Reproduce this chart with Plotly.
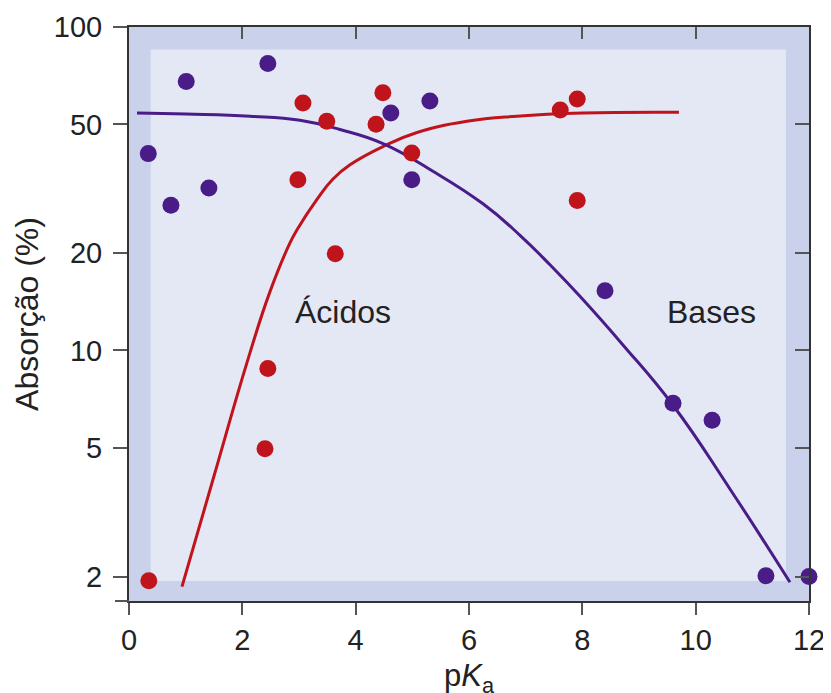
import plotly.graph_objects as go
import math

# Data points (pKa, absorption %)
acid_pka = [0.35, 2.40, 2.45, 3.07, 2.98, 3.49, 3.64, 4.48, 4.36, 4.99, 7.61, 7.91, 7.91]
acid_abs = [1.94, 4.97, 8.8, 58.2, 33.7, 51.1, 19.9, 62.6, 50.0, 40.8, 55.4, 59.9, 29.1]

base_pka = [0.34, 0.74, 1.01, 1.41, 2.45, 4.62, 5.31, 4.99, 8.40, 9.60, 10.29, 11.24, 12.0]
base_abs = [40.6, 28.1, 67.8, 31.8, 77.1, 54.2, 59.0, 33.7, 15.3, 6.87, 6.08, 2.01, 2.0]

# Fitted curves
acid_curve_x = [0.935, 1.50, 2.082, 2.488, 2.841, 2.965, 3.317, 3.60, 3.90, 4.482, 5.082, 5.964, 6.847, 8.011, 9.705]
acid_curve_y = [1.86, 4.09, 9.17, 15.2, 21.5, 23.6, 29.3, 33.9, 37.5, 42.7, 47.2, 51.1, 53.0, 54.2, 54.5]

base_curve_x = [0.141, 1.006, 2.135, 3.017, 3.723, 4.482, 5.364, 6.247, 6.900, 7.429, 7.958, 8.717, 9.600, 10.605, 11.664]
base_curve_y = [54.2, 53.8, 53.0, 51.5, 48.2, 43.6, 35.8, 28.4, 22.7, 18.4, 14.7, 10.4, 6.77, 3.73, 1.92]

x_ticks = [0, 2, 4, 6, 8, 10, 12]
y_ticks = [2, 5, 10, 20, 50, 100]

RED = "#c0141c"
PURPLE = "#4a1c88"
FONT = "Liberation Sans, Arial, sans-serif"
Y_MIN = 1.68
AX = "#333333"
TK = "#555555"
TXT = "#222222"

fig = go.Figure()
fig.add_trace(go.Scatter(x=acid_curve_x, y=acid_curve_y, mode="lines",
                         line=dict(color=RED, width=3, shape="spline", smoothing=1.3),
                         hoverinfo="skip"))
fig.add_trace(go.Scatter(x=base_curve_x, y=base_curve_y, mode="lines",
                         line=dict(color=PURPLE, width=3, shape="spline", smoothing=1.3),
                         hoverinfo="skip"))
fig.add_trace(go.Scatter(x=acid_pka, y=acid_abs, mode="markers",
                         marker=dict(color=RED, size=17, line=dict(width=0)), cliponaxis=False))
fig.add_trace(go.Scatter(x=base_pka, y=base_abs, mode="markers",
                         marker=dict(color=PURPLE, size=17, line=dict(width=0)), cliponaxis=False))
# invisible trace to activate mirrored (inside-tick) axes
fig.add_trace(go.Scatter(x=[None], y=[None], xaxis="x2", yaxis="y2", showlegend=False))

yr = [math.log10(Y_MIN), 2]
fig.update_layout(
    width=823, height=685,
    margin=dict(l=121, r=22, t=19, b=92, autoexpand=False),
    paper_bgcolor="white",
    plot_bgcolor="#c9d2ea",
    showlegend=False,
    font=dict(family=FONT, size=29, color=TXT),
    xaxis=dict(range=[0, 12], tickvals=x_ticks, ticks="outside", ticklen=12, tickwidth=2,
               tickcolor=TK, showline=True, linecolor=AX, linewidth=2,
               showgrid=False, zeroline=False, automargin=False,
               tickfont=dict(size=29)),
    yaxis=dict(type="log", range=yr, tickvals=y_ticks,
               ticks="outside", ticklen=14, tickwidth=2, tickcolor=TK,
               showline=True, linecolor=AX, linewidth=2, showgrid=False, zeroline=False,
               automargin=False, tickfont=dict(size=29), ticklabelstandoff=5,
               title=dict(text="Absorção (%)", font=dict(size=32), standoff=6)),
    xaxis2=dict(overlaying="x", side="top", range=[0, 12], tickvals=x_ticks, ticks="inside",
                ticklen=12, tickwidth=2, tickcolor=TK, showticklabels=False, automargin=False,
                showline=True, linecolor=AX, linewidth=2, showgrid=False, zeroline=False),
    yaxis2=dict(overlaying="y", side="right", type="log", range=yr, tickvals=y_ticks,
                ticks="inside", ticklen=14, tickwidth=2, tickcolor=TK, automargin=False,
                showticklabels=False, showline=True, linecolor=AX, linewidth=2,
                showgrid=False, zeroline=False),
    shapes=[
        dict(type="rect", xref="paper", yref="paper", x0=0.032, x1=0.966, y0=0.035, y1=0.961,
             fillcolor="#e4e8f5", line=dict(width=0), layer="below"),
        dict(type="line", xref="paper", yref="paper", x0=-14 / 680, x1=0, y0=0, y1=0,
             line=dict(color=TK, width=2)),
    ],
    annotations=[
        dict(text="Ácidos", x=0.315, y=0.504, xref="paper", yref="paper", showarrow=False,
             xanchor="center", yanchor="middle", font=dict(size=32, color=TXT)),
        dict(text="Bases", x=0.856, y=0.504, xref="paper", yref="paper", showarrow=False,
             xanchor="center", yanchor="middle", font=dict(size=32, color=TXT)),
        dict(text="p<i>K</i><sub>a</sub>", x=0.5, y=-0.134, xref="paper", yref="paper",
             showarrow=False, xanchor="center", yanchor="middle",
             font=dict(size=31, color=TXT)),
    ],
)

fig.write_html("out.html")
